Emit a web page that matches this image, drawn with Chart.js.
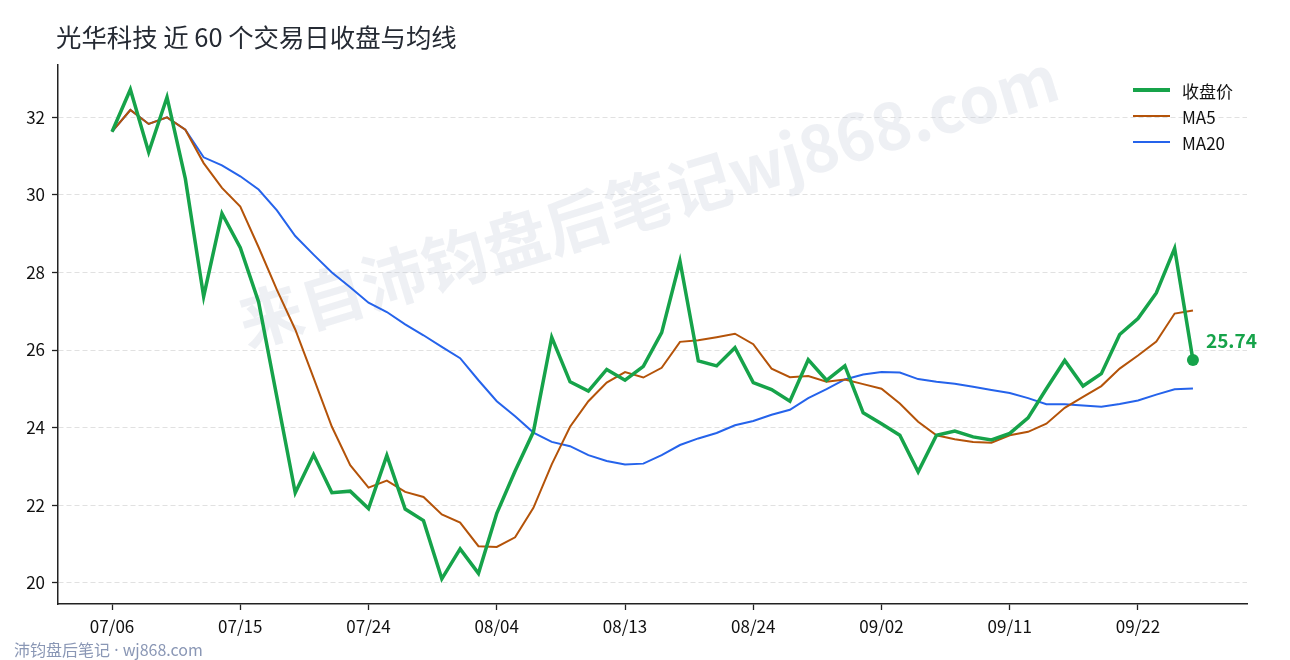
<!DOCTYPE html>
<html lang="zh-CN">
<head>
<meta charset="utf-8">
<title>光华科技 近 60 个交易日收盘与均线</title>
<script src="https://cdn.jsdelivr.net/npm/chart.js@4.4.1/dist/chart.umd.min.js"></script>
<style>
  html, body { margin: 0; padding: 0; background: #fff; }
  #wrap { position: relative; width: 1290px; height: 660px; overflow: hidden;
          font-family: 'Noto Sans CJK SC', 'Noto Sans', sans-serif; }
  #chart { position: absolute; left: 0; top: 0; }
  #title { position: absolute; left: 56px; top: 19px; font-size: 25.4px; line-height: 34px;
           color: #252a33; white-space: nowrap; }
  #legend { position: absolute; left: 1133px; top: 77px; font-size: 17px; color: #111; }
  #legend .item { display: flex; align-items: center; height: 26px; }
  #legend .swatch { width: 37px; margin-right: 12px; }
  #footer { position: absolute; left: 14px; top: 638px; font-size: 16px; line-height: 22px;
            color: #8a97b5; white-space: nowrap; }
  #footer .sep { font-family: 'Noto Sans', sans-serif; }
</style>
</head>
<body>
<div id="wrap">
  <canvas id="chart" width="1290" height="660"></canvas>
  <div id="title">光华科技 近 60 个交易日收盘与均线</div>
  <div id="legend"></div>
  <div id="footer">沛钧盘后笔记<span class="sep"> · </span>wj868.com</div>
</div>
<script>
// 收盘价 (60 trading days)
const closes = [
  31.63, 32.72, 31.10, 32.52, 30.42, 27.38, 29.52, 28.64, 27.24, 24.78,
  22.32, 23.30, 22.32, 22.36, 21.91, 23.28, 21.90, 21.60, 20.10, 20.87,
  20.24, 21.79, 22.88, 23.89, 26.33, 25.18, 24.94, 25.50, 25.22, 25.58,
  26.45, 28.29, 25.72, 25.59, 26.06, 25.16, 24.98, 24.68, 25.75, 25.22,
  25.59, 24.38, 24.10, 23.80, 22.86, 23.80, 23.91, 23.76, 23.68, 23.85,
  24.25, 25.00, 25.73, 25.07, 25.39, 26.40, 26.81, 27.47, 28.62, 25.74
];
const ma5 = [
  31.63, 32.19, 31.83, 32.00, 31.68, 30.82, 30.18, 29.70, 28.65, 27.55,
  26.53, 25.28, 24.02, 23.03, 22.45, 22.63, 22.34, 22.21, 21.76, 21.55,
  20.94, 20.92, 21.17, 21.93, 23.05, 24.02, 24.68, 25.16, 25.43, 25.29,
  25.54, 26.21, 26.25, 26.33, 26.42, 26.15, 25.52, 25.30, 25.33, 25.18,
  25.24, 25.12, 25.00, 24.62, 24.15, 23.80, 23.70, 23.63, 23.61, 23.80,
  23.89, 24.10, 24.51, 24.79, 25.07, 25.52, 25.86, 26.22, 26.94, 27.02
];
const ma20 = [
  31.63, 32.19, 31.83, 32.00, 31.68, 30.97, 30.76, 30.48, 30.14, 29.60,
  28.94, 28.46, 28.00, 27.62, 27.22, 26.98, 26.66, 26.38, 26.08, 25.79,
  25.22, 24.68, 24.29, 23.87, 23.63, 23.52, 23.29, 23.14, 23.05, 23.07,
  23.29, 23.55, 23.72, 23.86, 24.06, 24.17, 24.33, 24.46, 24.76, 24.99,
  25.24, 25.37, 25.43, 25.42, 25.25, 25.18, 25.13, 25.05, 24.97, 24.89,
  24.76, 24.60, 24.60, 24.57, 24.54, 24.61, 24.70, 24.85, 24.99, 25.01
];
// date ticks: trading-day index -> label
const tickPos = [0, 7, 14, 21, 28, 35, 42, 49, 56];
const tickLabels = ['07/06', '07/15', '07/24', '08/04', '08/13', '08/24', '09/02', '09/11', '09/22'];
const yTicks = [20, 22, 24, 26, 28, 30, 32];
const seriesNames = ['收盘价', 'MA5', 'MA20'];

const GREEN = '#16a34a';
const ORANGE = '#b45309';
const BLUE = '#2563eb';
const WATERMARK = '来自沛钧盘后笔记wj868.com';

const toPoints = arr => arr.map((v, i) => ({ x: i, y: v }));
const last = closes.length - 1;

// legend (html)
const legendEl = document.getElementById('legend');
[[GREEN, 4], [ORANGE, 2.5], [BLUE, 2.5]].forEach(([c, h], i) => {
  const row = document.createElement('div');
  row.className = 'item';
  row.innerHTML = `<span class="swatch" style="height:${h}px;background:${c}"></span><span>${seriesNames[i]}</span>`;
  legendEl.appendChild(row);
});

const watermark = {
  id: 'watermark',
  beforeDatasetsDraw(chart) {
    const ctx = chart.ctx;
    ctx.save();
    ctx.translate(648, 200);
    ctx.rotate(-17 * Math.PI / 180);
    ctx.font = "bold 64px 'Noto Sans CJK SC'";
    ctx.fillStyle = 'rgba(190,196,214,0.26)';
    ctx.textAlign = 'center';
    ctx.textBaseline = 'middle';
    ctx.fillText(WATERMARK, 0, 0);
    ctx.restore();
  }
};

const lastLabel = {
  id: 'lastLabel',
  afterDatasetsDraw(chart) {
    const pt = chart.getDatasetMeta(0).data[last];
    const ctx = chart.ctx;
    ctx.save();
    ctx.font = "bold 19px 'Noto Sans CJK SC'";
    ctx.fillStyle = GREEN;
    ctx.textAlign = 'left';
    ctx.textBaseline = 'middle';
    ctx.fillText(closes[last].toFixed(2), pt.x + 13, pt.y - 19);
    ctx.restore();
  }
};

Chart.defaults.font.family = "'Noto Sans CJK SC', 'Noto Sans', sans-serif";

new Chart(document.getElementById('chart'), {
  type: 'line',
  data: {
    datasets: [
      {
        label: seriesNames[0],
        data: toPoints(closes),
        borderColor: GREEN,
        borderWidth: 3.5,
        pointRadius: c => (c.dataIndex === last ? 6 : 0),
        pointHoverRadius: c => (c.dataIndex === last ? 6 : 0),
        pointBackgroundColor: GREEN,
        pointBorderWidth: 0
      },
      {
        label: seriesNames[1],
        data: toPoints(ma5),
        borderColor: ORANGE,
        borderWidth: 2,
        pointRadius: 0
      },
      {
        label: seriesNames[2],
        data: toPoints(ma20),
        borderColor: BLUE,
        borderWidth: 2,
        pointRadius: 0
      }
    ]
  },
  options: {
    responsive: false,
    maintainAspectRatio: false,
    animation: false,
    events: [],
    layout: { padding: { left: 0, right: 43, top: 65, bottom: 0 } },
    plugins: {
      legend: { display: false },
      tooltip: { enabled: false }
    },
    scales: {
      x: {
        type: 'linear',
        min: -2.95,
        max: 61.95,
        afterBuildTicks: s => { s.ticks = tickPos.map(v => ({ value: v })); },
        afterFit: s => { s.height = 56; },
        ticks: {
          callback: v => tickLabels[tickPos.indexOf(v)],
          autoSkip: false,
          maxRotation: 0,
          padding: 6,
          color: '#111',
          font: { size: 17 }
        },
        grid: { drawOnChartArea: false, tickLength: 6, tickColor: '#222', tickWidth: 1.3 },
        border: { color: '#222', width: 1.5 }
      },
      y: {
        min: 19.45,
        max: 33.35,
        afterBuildTicks: s => { s.ticks = yTicks.map(v => ({ value: v })); },
        afterFit: s => { s.width = 58; },
        ticks: { padding: 7, color: '#111', font: { size: 17 } },
        grid: { color: '#dedede', lineWidth: 0.9, tickLength: 6, tickColor: '#222', tickWidth: 1.3 },
        border: { color: '#222', width: 1.5, dash: [5, 3] }
      }
    }
  },
  plugins: [watermark, lastLabel]
});
</script>
</body>
</html>
